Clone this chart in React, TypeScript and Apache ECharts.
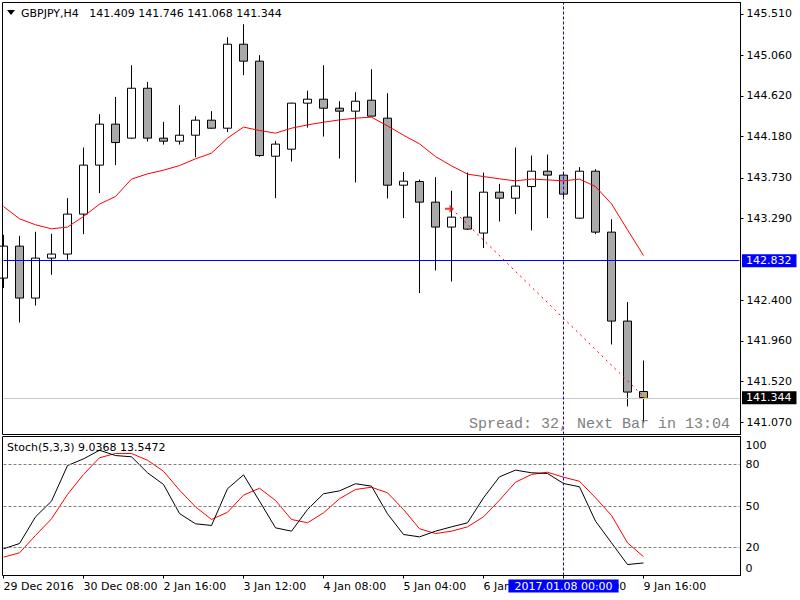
import React, { useEffect, useRef } from "react";
import * as echarts from "echarts";

const symbolName = "GBPJPY";
const timeframe = "H4";

const timeLabels = [
  "29 Dec 2016", "29 Dec 16:00", "29 Dec 20:00", "30 Dec", "30 Dec 04:00",
  "30 Dec 08:00", "30 Dec 12:00", "30 Dec 16:00", "30 Dec 20:00", "2 Jan 12:00",
  "2 Jan 16:00", "2 Jan 20:00", "3 Jan", "3 Jan 04:00", "3 Jan 08:00",
  "3 Jan 12:00", "3 Jan 16:00", "3 Jan 20:00", "4 Jan", "4 Jan 04:00",
  "4 Jan 08:00", "4 Jan 12:00", "4 Jan 16:00", "4 Jan 20:00", "5 Jan",
  "5 Jan 04:00", "5 Jan 08:00", "5 Jan 12:00", "5 Jan 16:00", "5 Jan 20:00",
  "6 Jan", "6 Jan 04:00", "6 Jan 08:00", "6 Jan 12:00", "6 Jan 16:00",
  "6 Jan 20:00", "9 Jan", "9 Jan 04:00", "9 Jan 08:00", "9 Jan 12:00",
  "9 Jan 16:00", "9 Jan 20:00", "10 Jan", "10 Jan 04:00", "10 Jan 08:00",
  "10 Jan 12:00", "10 Jan 16:00",
];
const labeledBars = [0, 5, 10, 15, 20, 25, 30, 35, 40];

const opens = [
  142.641, 142.988, 142.424, 142.858, 142.902, 143.336, 143.868, 144.313, 144.161, 144.703,
  144.161, 144.128, 144.193, 144.356, 144.269, 145.181, 144.997, 143.965, 144.041, 144.541,
  144.584, 144.486, 144.454, 144.573, 144.378, 143.650, 143.690, 143.466, 143.195, 143.303,
  143.130, 143.574, 143.509, 143.635, 143.802, 143.759, 143.292, 143.802, 143.140, 142.174,
  141.409,
];
const closes = [
  142.988, 142.424, 142.858, 142.902, 143.336, 143.868, 144.313, 144.113, 144.703, 144.161,
  144.128, 144.193, 144.356, 144.269, 145.181, 144.997, 143.972, 144.096, 144.541, 144.584,
  144.486, 144.454, 144.562, 144.400, 143.650, 143.694, 143.466, 143.195, 143.303, 143.173,
  143.574, 143.509, 143.640, 143.802, 143.759, 143.553, 143.802, 143.140, 142.174, 141.403,
  141.344,
];
const lows = [
  142.532, 142.159, 142.343, 142.677, 142.840, 143.118, 143.564, 143.868, 144.155, 144.124,
  144.091, 144.091, 143.954, 144.262, 144.226, 144.845, 143.958, 143.509, 143.907, 144.276,
  144.178, 143.939, 143.679, 144.395, 143.505, 143.292, 142.478, 142.723, 142.604, 143.165,
  142.967, 143.255, 143.336, 143.158, 143.292, 143.500, 143.288, 143.118, 141.920, 141.247,
  141.068,
];
const highs = [
  143.111, 143.100, 143.144, 143.122, 143.509, 144.059, 144.421, 144.609, 144.953, 144.772,
  144.338, 144.519, 144.399, 144.454, 145.257, 145.398, 145.062, 144.131, 144.545, 144.677,
  144.953, 144.562, 144.660, 144.910, 144.649, 143.792, 143.711, 143.737, 143.589, 143.787,
  143.787, 143.665, 144.059, 143.972, 143.983, 143.785, 143.846, 143.824, 143.281, 142.380,
  141.746,
];
const maValues = [
  143.418, 143.285, 143.220, 143.176, 143.195, 143.310, 143.444, 143.527, 143.716, 143.773,
  143.813, 143.863, 143.936, 143.998, 144.161, 144.281, 144.244, 144.215, 144.269, 144.305,
  144.334, 144.359, 144.378, 144.389, 144.294, 144.193, 144.099, 143.961, 143.860, 143.770,
  143.744, 143.719, 143.697, 143.716, 143.708, 143.697, 143.716, 143.635, 143.447, 143.165,
  142.886,
];
const stochK = [
  19.2, 23.0, 42.2, 53.5, 79.1, 83.9, 90.1, 86.3, 85.4, 73.9,
  65.5, 44.6, 37.2, 36.0, 62.4, 72.4, 53.5, 34.3, 31.9, 47.5,
  58.8, 60.9, 66.0, 64.3, 44.4, 29.5, 27.8, 31.9, 35.0, 37.9,
  55.9, 71.0, 75.8, 73.9, 73.4, 66.2, 63.8, 39.1, 23.5, 7.9,
  9.0368,
];
const stochD = [
  13.2, 16.3, 28.8, 40.8, 58.3, 72.7, 84.7, 87.8, 87.8, 82.9,
  75.0, 61.4, 49.4, 40.3, 45.5, 57.8, 62.8, 54.0, 40.3, 37.9,
  45.1, 55.2, 61.9, 63.5, 59.5, 47.5, 33.6, 30.2, 31.9, 35.0,
  42.2, 54.2, 67.1, 72.7, 74.3, 70.7, 67.8, 55.9, 43.2, 23.5,
  13.5472,
];

const priceTicks = [145.51, 145.06, 144.62, 144.18, 143.73, 143.29, 142.4, 141.96, 141.52, 141.07];
const stochTicks = [0, 20, 50, 80, 100];
const stochLevels = [20, 50, 80];
const priceMin = 140.9421;
const priceMax = 145.6342;

const levelPrice = 142.832;
const tradeOpenIndex = 28;
const tradeOpenPrice = 143.394;
const tradeCloseIndex = 40;
const tradeClosePrice = 141.355;
const crosshairIndex = 35;
const crosshairLabel = "2017.01.08 00:00";
const spreadText = "Spread: 32, Next Bar in 13:04";

const FONT = "DejaVu Sans";
const BLUE = "#0000ff";

export default function App() {
  const ref = useRef<HTMLDivElement>(null);

  useEffect(() => {
    if (!ref.current) return;
    const chart = echarts.init(ref.current, undefined, { renderer: "svg" });
    const last = opens.length - 1;
    const bid = closes[last];
    const header = `${symbolName},${timeframe}   ${[opens[last], highs[last], lows[last], closes[last]]
      .map((v) => v.toFixed(3))
      .join(" ")}`;
    const stochTitle = `Stoch(5,3,3) ${stochK[last].toFixed(4)} ${stochD[last].toFixed(4)}`;
    const isLabeled = (i: number) => labeledBars.includes(i);

    const priceLabel = (bg: string) => ({
      show: true,
      position: "end",
      distance: 2.5,
      backgroundColor: bg,
      color: "#ffffff",
      fontSize: 11,
      fontFamily: FONT,
      padding: [1, 5, 1, 4],
    });

    const option: any = {
      animation: false,
      backgroundColor: "#ffffff",
      textStyle: { fontFamily: FONT },
      grid: [
        { left: 3.5, top: 2.5, width: 736, height: 432, outerBoundsMode: "none", containLabel: false },
        { left: 3.5, top: 436.5, width: 736, height: 139, outerBoundsMode: "none", containLabel: false },
      ],
      xAxis: [
        { type: "category", gridIndex: 0, data: timeLabels, boundaryGap: false, show: false },
        {
          type: "category",
          gridIndex: 1,
          data: timeLabels,
          boundaryGap: false,
          axisLine: { show: true, lineStyle: { color: "#000", width: 1 } },
          axisTick: { show: true, length: 3, interval: (i: number) => isLabeled(i), lineStyle: { color: "#000" } },
          axisLabel: {
            interval: (i: number) => isLabeled(i),
            align: "left",
            margin: 5,
            fontSize: 11,
            fontFamily: FONT,
            color: "#000",
          },
          splitLine: { show: false },
        },
      ],
      yAxis: [
        {
          type: "value",
          gridIndex: 0,
          position: "right",
          offset: 1,
          min: priceMin,
          max: priceMax,
          axisLine: { show: true, lineStyle: { color: "#000", width: 1 } },
          axisTick: { show: true, length: 3, customValues: priceTicks, lineStyle: { color: "#000" } },
          axisLabel: {
            customValues: priceTicks,
            formatter: (v: number) => v.toFixed(3),
            margin: 6,
            fontSize: 11,
            fontFamily: FONT,
            color: "#000",
          },
          splitLine: { show: false },
        },
        {
          type: "value",
          gridIndex: 1,
          position: "right",
          offset: 1,
          min: 0,
          max: 100,
          axisLine: { show: true, lineStyle: { color: "#000", width: 1 } },
          axisTick: { show: false },
          axisLabel: {
            customValues: stochTicks,
            margin: 5,
            fontSize: 11,
            fontFamily: FONT,
            color: "#000",
            formatter: (v: number) => (v === 100 ? `{t|${v}}` : v === 0 ? `{b|${v}}` : `${v}`),
            rich: {
              t: { padding: [18, 0, 0, 0], fontSize: 11, fontFamily: FONT, color: "#000" },
              b: { padding: [0, 0, 15, 0], fontSize: 11, fontFamily: FONT, color: "#000" },
            },
          },
          splitLine: { show: false },
        },
      ],
      series: [
        {
          type: "candlestick",
          xAxisIndex: 0,
          yAxisIndex: 0,
          barWidth: 9,
          data: opens.map((o, i) => [o, closes[i], lows[i], highs[i]]),
          itemStyle: {
            color: "#ffffff",
            color0: "#a9a9a9",
            borderColor: "#000000",
            borderColor0: "#000000",
            borderWidth: 1,
          },
        },
        {
          type: "line",
          name: "MA",
          xAxisIndex: 0,
          yAxisIndex: 0,
          data: maValues,
          symbol: "none",
          clip: false,
          lineStyle: { color: "#ff0000", width: 1 },
          z: 3,
          markLine: {
            silent: true,
            symbol: ["none", "none"],
            lineStyle: { color: "#c8c8c8", type: "solid", width: 1 },
            data: [{ yAxis: bid, label: { ...priceLabel("#000000"), formatter: bid.toFixed(3) } }],
          },
        },
        {
          type: "line",
          name: "trade",
          xAxisIndex: 0,
          yAxisIndex: 0,
          data: [
            [tradeOpenIndex, tradeOpenPrice],
            [tradeCloseIndex, tradeClosePrice],
          ],
          symbol: "none",
          clip: false,
          color: "#ff0000",
          lineStyle: { color: "#ff0000", width: 1, type: [2, 4] },
          z: 3,
          markLine: {
            silent: true,
            symbol: ["none", "none"],
            itemStyle: { color: BLUE },
            lineStyle: { color: BLUE, type: "solid", width: 1, opacity: 1 },
            data: [
              {
                yAxis: levelPrice,
                label: { ...priceLabel(BLUE), formatter: levelPrice.toFixed(3) },
              },
              {
                xAxis: crosshairIndex,
                lineStyle: { color: BLUE, type: [3, 2], width: 1 },
                label: { show: false },
              },
            ],
          },
        },
        {
          type: "scatter",
          name: "open",
          xAxisIndex: 0,
          yAxisIndex: 0,
          data: [[tradeOpenIndex, tradeOpenPrice]],
          symbol: "path://M0,3 L4,3 L4,0 L8,4 L4,8 L4,5 L0,5 Z",
          symbolSize: [9, 8],
          symbolOffset: [-2, 0],
          itemStyle: { color: "#ff0000" },
          z: 4,
        },
        {
          type: "scatter",
          name: "close",
          xAxisIndex: 0,
          yAxisIndex: 0,
          data: [[tradeCloseIndex, tradeClosePrice]],
          symbol: "triangle",
          symbolRotate: 90,
          symbolSize: [6, 5],
          symbolOffset: [1, 0],
          itemStyle: { color: "#daa520" },
          z: 4,
        },
        {
          type: "line",
          name: "%K",
          xAxisIndex: 1,
          yAxisIndex: 1,
          data: stochK,
          symbol: "none",
          clip: false,
          lineStyle: { color: "#000000", width: 1 },
          z: 4,
        },
        {
          type: "line",
          name: "%D",
          xAxisIndex: 1,
          yAxisIndex: 1,
          data: stochD,
          symbol: "none",
          clip: false,
          color: "#ff0000",
          lineStyle: { color: "#ff0000", width: 1 },
          z: 3,
          markLine: {
            silent: true,
            symbol: ["none", "none"],
            label: { show: false },
            lineStyle: { color: "#808080", type: [3, 2], width: 1 },
            data: stochLevels.map((v) => ({ yAxis: v })),
          },
        },
        {
          type: "line",
          name: "crosshair",
          xAxisIndex: 1,
          yAxisIndex: 1,
          data: [],
          symbol: "none",
          clip: false,
          color: BLUE,
          lineStyle: { color: BLUE, width: 1 },
          z: 5,
          markLine: {
            silent: true,
            symbol: ["none", "none"],
            itemStyle: { color: BLUE },
            lineStyle: { color: BLUE, type: [3, 2], width: 1, opacity: 1 },
            data: [
              {
                xAxis: crosshairIndex,
                label: {
                  show: true,
                  position: "start",
                  distance: 4,
                  formatter: crosshairLabel,
                  backgroundColor: BLUE,
                  color: "#ffffff",
                  fontSize: 11,
                  fontFamily: FONT,
                  padding: [1, 6, 1, 6],
                },
              },
            ],
          },
        },
      ],
      graphic: [
        {
          type: "rect",
          silent: true,
          z: 50,
          shape: { x: 2.5, y: 2.5, width: 738, height: 432 },
          style: { fill: "none", stroke: "#000", lineWidth: 1 },
        },
        {
          type: "rect",
          silent: true,
          z: 50,
          shape: { x: 2.5, y: 436.5, width: 738, height: 139 },
          style: { fill: "none", stroke: "#000", lineWidth: 1 },
        },
        {
          type: "polygon",
          silent: true,
          z: 50,
          shape: { points: [[7, 10], [15, 10], [11, 15]] },
          style: { fill: "#000" },
        },
        {
          type: "text",
          silent: true,
          z: 50,
          x: 21,
          y: 13,
          style: { text: header, fontSize: 11, fontFamily: FONT, fill: "#000", verticalAlign: "middle" },
        },
        {
          type: "text",
          silent: true,
          z: 50,
          x: 7,
          y: 447,
          style: { text: stochTitle, fontSize: 11, fontFamily: FONT, fill: "#000", verticalAlign: "middle" },
        },
        {
          type: "text",
          silent: true,
          z: 50,
          x: 730,
          y: 424,
          style: {
            text: spreadText,
            fontSize: 15,
            fontFamily: "Liberation Mono",
            fill: "#808080",
            align: "right",
            verticalAlign: "middle",
          },
        },
      ],
    };

    chart.setOption(option);
    return () => chart.dispose();
  }, []);

  return (
    <div
      ref={ref}
      style={{ position: "absolute", left: 0, top: 0, width: 800, height: 600, background: "#fff" }}
    />
  );
}
